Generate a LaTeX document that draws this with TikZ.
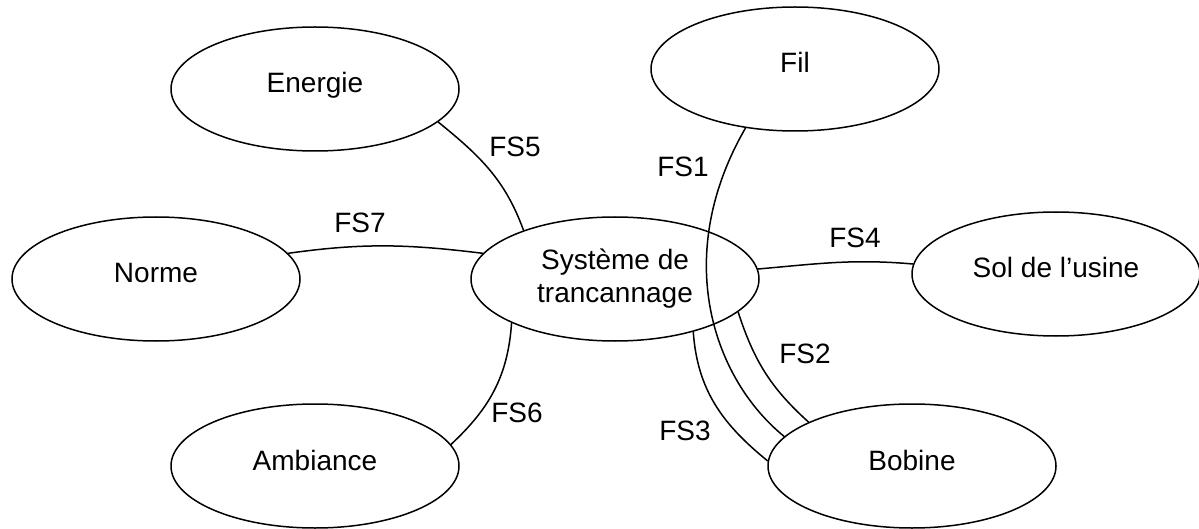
\documentclass[tikz,border=0pt]{standalone}
\usepackage{fontspec}
\setmainfont{Liberation Sans}
\usetikzlibrary{shapes.geometric}
\tikzset{
  entbase/.style={ellipse, draw, line width=1.5pt, minimum width=288pt, minimum height=124pt, inner sep=0pt, font=\fontsize{28}{33}\selectfont},
  ent/.style={entbase, text height=20pt, text depth=12pt},
  lbl/.style={font=\fontsize{28}{33}\selectfont, inner sep=0pt},
  link/.style={line width=1.5pt}
}
\begin{document}
\begin{tikzpicture}[x=1pt,y=1pt]
\useasboundingbox (0,0) rectangle (1199,-529);
\node[ent] (ene) at (315,-89) {Energie};
\node[ent] (fil) at (795,-69) {Fil};
\node[ent] (nor) at (156,-279) {Norme};
\node[entbase, align=center] (sys) at (615,-279) {Système de\\trancannage};
\node[ent] (sol) at (1056,-274) {Sol de l’usine};
\node[ent] (amb) at (315,-466) {Ambiance};
\node[ent] (bob) at (912,-466) {Bobine};

\draw[link] (ene.-15.7) to[out=-39,in=110] (sys.152);
\draw[link] (nor.11.8) to[out=8,in=173] (sys.169.9);
\draw[link] (sys.203.1) to[out=-94,in=43] (amb.9.7);
\draw[link] (sys.4.4) to[out=5,in=175] (sol.176.8);
\draw[link] (fil.230.1) to[out=-120,in=141,out distance=150pt,in distance=90pt] (bob.167.7);
\draw[link] (sys.-15) to[out=-72,in=138] (bob.157.7);
\draw[link] (sys.-34.2) to[out=-86,in=141] (bob.178.8);

\node[lbl] (l5) at (515,-147) {FS5};
\node[lbl] (l7) at (360,-223) {FS7};
\node[lbl] (l1) at (683,-167) {FS1};
\node[lbl] (l4) at (855,-238) {FS4};
\node[lbl] (l2) at (805,-354) {FS2};
\node[lbl] (l3) at (685,-431) {FS3};
\node[lbl] (l6) at (517,-413) {FS6};
\end{tikzpicture}
\end{document}
